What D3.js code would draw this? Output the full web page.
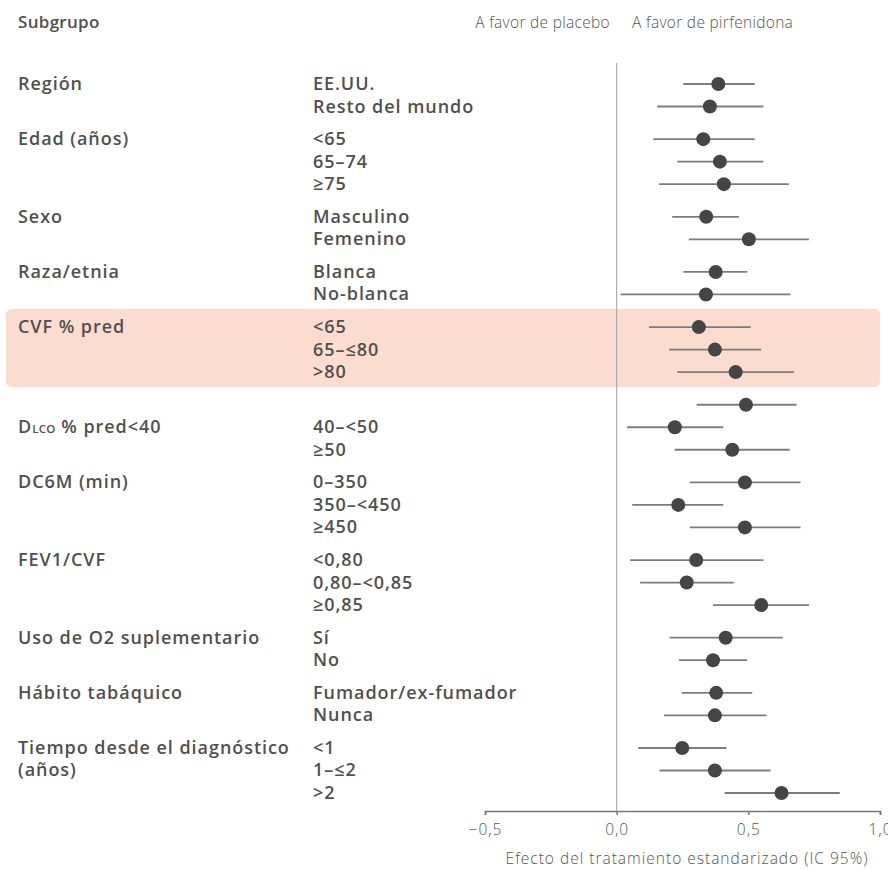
<!DOCTYPE html>
<html>
<head>
<meta charset="utf-8">
<script src="https://cdn.jsdelivr.net/npm/d3@7"></script>
<style>
  body { margin: 0; background: #fff; }
  svg { display: block; }
  .lbl { font-family: "Open Sans", sans-serif; font-weight: 600; font-size: 18px; letter-spacing: 0.95px; fill: #505050; }
  .thin { font-family: "Open Sans", sans-serif; font-weight: 300; fill: #555; }
</style>
</head>
<body>
<script>
// group names (first column)
var groups = ["Región", "Edad (años)", "Sexo", "Raza/etnia", "CVF % pred", "DLCO % pred<40",
  "DC6M (min)", "FEV1/CVF", "Uso de O2 suplementario", "Hábito tabáquico", "Tiempo desde el diagnóstico"];
// row (within group) where the group name sits
var groupLabelRow = [0, 0, 0, 0, 0, 1, 0, 0, 0, 0, 0];

// subgroup levels
var levels = ["EE.UU.", "Resto del mundo", "<65", "65–74", "≥75", "Masculino", "Femenino",
  "Blanca", "No-blanca", "<65", "65–≤80", ">80", "", "40–<50", "≥50", "0–350", "350–<450", "≥450",
  "<0,80", "0,80–<0,85", "≥0,85", "Sí", "No", "Fumador/ex-fumador", "Nunca", "<1", "1–≤2", ">2"];
var groupOf = [0,0,1,1,1,2,2,3,3,4,4,4,5,5,5,6,6,6,7,7,7,8,8,9,9,10,10,10];

// standardized treatment effect and 95% CI
var est = [0.386,0.354,0.329,0.392,0.407,0.340,0.502,0.376,0.339,0.312,0.373,0.452,0.491,0.221,
  0.439,0.487,0.234,0.487,0.302,0.266,0.549,0.414,0.366,0.378,0.373,0.249,0.373,0.626];
var lo = [0.253,0.154,0.139,0.230,0.161,0.211,0.274,0.253,0.015,0.123,0.199,0.230,0.304,0.040,
  0.220,0.278,0.059,0.278,0.051,0.089,0.366,0.201,0.237,0.247,0.180,0.082,0.163,0.410];
var hi = [0.524,0.557,0.524,0.557,0.654,0.464,0.730,0.496,0.660,0.509,0.549,0.673,0.683,0.405,
  0.657,0.698,0.405,0.698,0.557,0.445,0.730,0.631,0.496,0.515,0.569,0.417,0.584,0.847];

var ticks = [-0.5, 0, 0.5, 1.0];
var highlightGroup = 4;

var w = 888, h = 869;
var groupGap = 0.45;   // extra space between groups, in rows

var svg = d3.select("body").append("svg")
  .attr("width", w).attr("height", h);

// slot = row index + gap for every group before it
var slots = levels.map(function (d, i) { return i + groupOf[i] * groupGap; });
var maxSlot = d3.max(slots);

var x = d3.scaleLinear().domain([-0.5, 1]).range([485, 880]);
var y = d3.scaleLinear().domain([0, maxSlot]).range([84, 793]);

// highlight band
var hiRows = d3.range(levels.length).filter(function (i) { return groupOf[i] === highlightGroup; });
svg.append("rect")
  .attr("x", 6).attr("width", 874)
  .attr("y", y(slots[hiRows[0]] - 0.8))
  .attr("height", y(slots[hiRows[hiRows.length - 1]] + 0.67) - y(slots[hiRows[0]] - 0.8))
  .attr("rx", 6)
  .attr("fill", "#fbdccf");

// header
svg.append("text").attr("class", "lbl")
  .attr("x", 18).attr("y", 28).style("font-size", "17px").style("letter-spacing", "0.3px").text("Subgrupo");
svg.append("text").attr("class", "thin")
  .attr("x", 610).attr("y", 28).attr("text-anchor", "end")
  .style("font-size", "15.5px").style("letter-spacing", "0.3px")
  .text("A favor de placebo");
svg.append("text").attr("class", "thin")
  .attr("x", 632).attr("y", 28)
  .style("font-size", "15.5px").style("letter-spacing", "0.3px")
  .text("A favor de pirfenidona");

// group labels
groups.forEach(function (g, gi) {
  var rows = d3.range(levels.length).filter(function (i) { return groupOf[i] === gi; });
  var yy = y(slots[rows[groupLabelRow[gi]]]) + 6;
  var t = svg.append("text").attr("class", "lbl").attr("x", 18).attr("y", yy);
  if (g.indexOf("DLCO") === 0) {
    t.append("tspan").text("D");
    t.append("tspan").style("font-size", "11.5px").style("letter-spacing", "0.3px").text("LCO");
    t.append("tspan").text(g.slice(4));
  } else {
    t.text(g);
  }
  if (gi === groups.length - 1) {
    svg.append("text").attr("class", "lbl").attr("x", 18)
      .attr("y", y(slots[rows[1]]) + 6).text("(años)");
  }
});

// level labels
svg.selectAll("text.level")
  .data(levels)
  .enter().append("text")
  .attr("class", "lbl level")
  .attr("x", 313)
  .attr("y", function (d, i) { return y(slots[i]) + 6; })
  .text(function (d) { return d; });

// reference line at 0
svg.append("line")
  .attr("x1", x(0)).attr("x2", x(0))
  .attr("y1", 63).attr("y2", 811)
  .attr("stroke", "#a0a0a0").attr("stroke-width", 1);

// CI lines
svg.selectAll("line.ci")
  .data(levels)
  .enter().append("line")
  .attr("class", "ci")
  .attr("x1", function (d, i) { return x(lo[i]); })
  .attr("x2", function (d, i) { return x(hi[i]); })
  .attr("y1", function (d, i) { return y(slots[i]); })
  .attr("y2", function (d, i) { return y(slots[i]); })
  .attr("stroke", "#7c7c7c").attr("stroke-width", 1.8);

// point estimates
svg.selectAll("circle.pt")
  .data(levels)
  .enter().append("circle")
  .attr("class", "pt")
  .attr("cx", function (d, i) { return x(est[i]); })
  .attr("cy", function (d, i) { return y(slots[i]); })
  .attr("r", 7)
  .attr("fill", "#454545");

// x axis
var fmt = function (d) { return d3.format(".1f")(d).replace(".", ",").replace("-", "–"); };
var ax = svg.append("g")
  .attr("transform", "translate(0,811)")
  .call(d3.axisBottom(x).tickValues(ticks).tickFormat(fmt).tickSizeOuter(0).tickSize(4).tickPadding(9));
ax.select(".domain").attr("stroke", "#777").attr("stroke-width", 1.5);
ax.selectAll(".tick line").attr("stroke", "#777").attr("stroke-width", 1.5);
ax.selectAll(".tick text")
  .attr("fill", "#555")
  .style("font-family", "'Open Sans', sans-serif").style("font-weight", 300)
  .style("font-size", "15.5px").style("letter-spacing", "1px");

svg.append("text").attr("class", "thin")
  .attr("x", 687).attr("y", 864).attr("text-anchor", "middle")
  .style("font-size", "15.5px").style("letter-spacing", "1px")
  .text("Efecto del tratamiento estandarizado (IC 95%)");
</script>
</body>
</html>
